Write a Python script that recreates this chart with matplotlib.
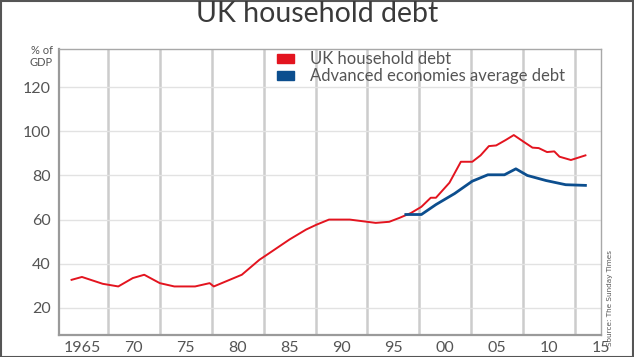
import matplotlib
matplotlib.use("Agg")
import matplotlib.pyplot as plt
from matplotlib.patches import Rectangle

# ---- data ----
uk_years = [1964.0, 1965.0, 1967.0, 1968.5, 1969.9, 1971.0, 1972.5, 1973.9, 1975.9,
            1977.3, 1977.7, 1980.4, 1982.1, 1982.8, 1985.0, 1986.6, 1987.6, 1988.8,
            1990.8, 1993.3, 1994.6, 1995.6, 1996.7, 1997.7, 1998.6, 1999.1, 2000.4,
            2001.5, 2002.6, 2003.4, 2004.2, 2004.9, 2005.8, 2006.6, 2007.6, 2008.4,
            2009.0, 2009.8, 2010.5, 2011.0, 2012.1, 2013.5]
uk_debt = [32.7, 34.0, 30.9, 29.7, 33.5, 35.0, 31.2, 29.7, 29.7,
           31.2, 29.7, 35.0, 41.8, 44.0, 51.0, 55.5, 57.7, 60.0,
           60.0, 58.5, 59.0, 60.8, 63.0, 65.8, 69.9, 69.9, 76.7,
           86.2, 86.2, 89.1, 93.3, 93.6, 96.0, 98.3, 95.1, 92.6,
           92.4, 90.6, 90.9, 88.5, 87.0, 89.1]

adv_years = [1996.2, 1997.7, 1999.1, 2000.9, 2002.6, 2004.1, 2005.7, 2006.8,
             2007.9, 2009.7, 2011.6, 2013.5]
adv_debt = [62.3, 62.3, 66.8, 71.8, 77.4, 80.3, 80.3, 83.0,
            80.0, 77.7, 75.8, 75.5]

x_tick_years = [1965, 1970, 1975, 1980, 1985, 1990, 1995, 2000, 2005, 2010, 2015]
x_tick_labels = ["1965", "70", "75", "80", "85", "90", "95", "00", "05", "10", "15"]
x_grid_years = [1967.5, 1972.5, 1977.5, 1982.5, 1987.5, 1992.5, 1997.5, 2002.5, 2007.5, 2012.5]
y_ticks = [20, 40, 60, 80, 100, 120]

series_labels = ["UK household debt", "Advanced economies average debt"]
RED = "#e3141f"
BLUE = "#0c4e8e"
TXT = "#555555"
FONT = "Lato"

W, H = 634, 357
fig = plt.figure(figsize=(W / 100, H / 100), dpi=100)
fig.patch.set_facecolor("white")

ax = fig.add_axes([59 / W, 1 - 335 / H, (601 - 59) / W, (335 - 49) / H])
ax.set_xlim(1962.79, 2014.9)
ax.set_ylim(7.7, 137.3)

ax.plot(uk_years, uk_debt, color=RED, lw=1.4, solid_joinstyle="round", zorder=3)
ax.plot(adv_years, adv_debt, color=BLUE, lw=2.0, solid_joinstyle="round", zorder=4)

ax.set_xticks(x_tick_years)
ax.set_xticklabels(x_tick_labels)
ax.set_xticks(x_grid_years, minor=True)
ax.set_yticks(y_ticks)
ax.tick_params(axis="both", which="both", length=0, colors=TXT, labelsize=11.5)
for lab in ax.get_xticklabels() + ax.get_yticklabels():
    lab.set_family(FONT)
ax.tick_params(axis="x", pad=4)
ax.tick_params(axis="y", pad=6)

ax.grid(False)
ax.xaxis.grid(True, which="minor", color="#cccccc", lw=1.8, zorder=0)
ax.yaxis.grid(True, which="major", color="#e2e2e2", lw=1.0, zorder=0)

for side in ["left", "bottom"]:
    ax.spines[side].set_color("#9a9a9a")
    ax.spines[side].set_linewidth(1.6)
for side in ["top", "right"]:
    ax.spines[side].set_color("#a8a8a8")
    ax.spines[side].set_linewidth(1.0)

# y-unit label
fig.text(53 / W, 1 - 51 / H, "% of", ha="right", va="center", fontsize=8,
         color=TXT, family=FONT)
fig.text(53 / W, 1 - 62 / H, "GDP", ha="right", va="center", fontsize=8,
         color=TXT, family=FONT)

# title
fig.text(0.5, 1 - 14 / H, "UK household debt", ha="center", va="center",
         fontsize=20.5, color="#3a3a3a", family=FONT, fontweight="normal")

# legend
for i, (lab, col) in enumerate(zip(series_labels, [RED, BLUE])):
    y0 = 54 + i * 17
    fig.patches.append(Rectangle((277 / W, 1 - (y0 + 9) / H), 17 / W, 9 / H,
                                 transform=fig.transFigure, color=col))
    fig.text(310 / W, 1 - (y0 + 4.5) / H, lab, ha="left", va="center",
             fontsize=12, color=TXT, family=FONT)

# source
fig.text(610 / W, 1 - 298 / H, "Source: The Sunday Times", rotation=90,
         ha="center", va="center", fontsize=5.2, color=TXT,
         family="Liberation Sans Narrow")

# frame around image
fig.patches.append(Rectangle((0.5 / W, 0.5 / H), 1 - 1.5 / W, 1 - 1.5 / H,
                             transform=fig.transFigure, fill=False,
                             edgecolor="#555555", lw=1.5))

fig.savefig("out.png", dpi=100)
